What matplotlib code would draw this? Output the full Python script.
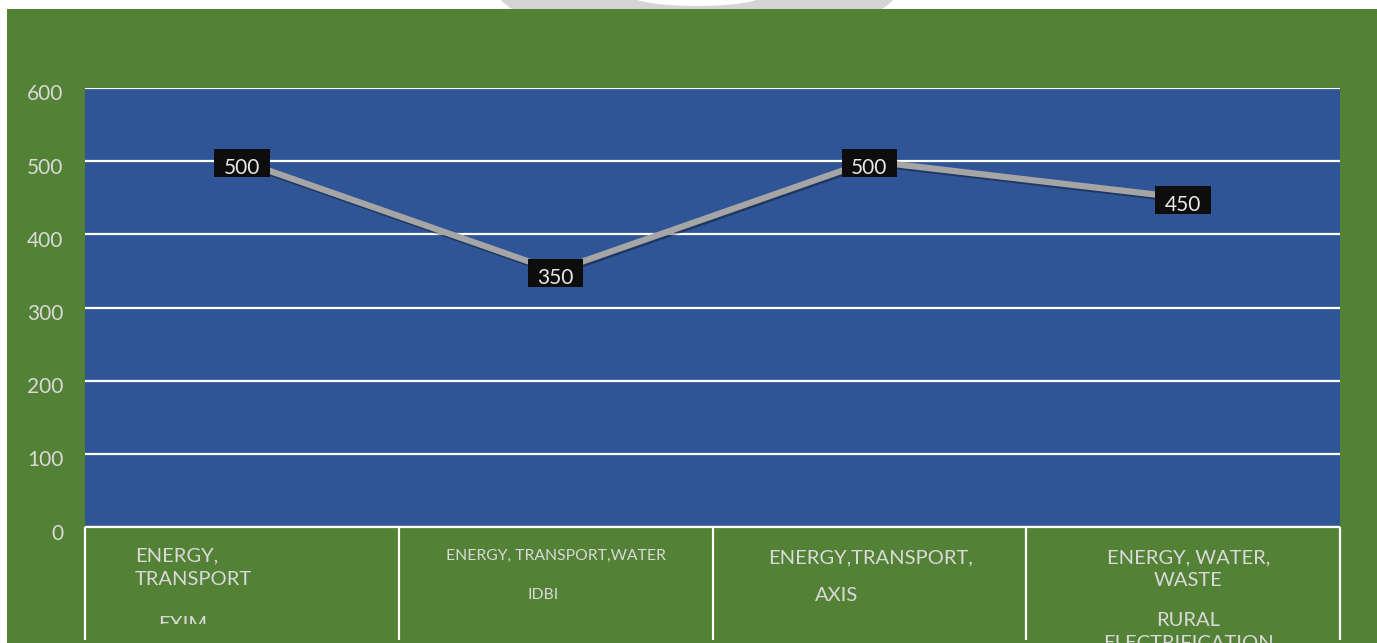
import numpy as np
import matplotlib
matplotlib.use("Agg")
import matplotlib.pyplot as plt
from matplotlib import patheffects, transforms
from matplotlib.patches import Rectangle, Ellipse

plt.rcParams['font.family'] = ['Lato', 'DejaVu Sans']

# data
sectors = ["ENERGY,\nTRANSPORT", "ENERGY, TRANSPORT,WATER", "ENERGY,TRANSPORT,", "ENERGY, WATER,\nWASTE"]
banks = ["EXIM", "IDBI", "AXIS", "RURAL\nELECTRIFICATION"]
values = [500, 350, 500, 450]
yticks = [0, 100, 200, 300, 400, 500, 600]

# label layout inside the category boxes (x offset from category centre, top in axes fraction)
sec_dx = [-0.341, 0.0, 0.005, 0.016]
sec_ha = ["left", "center", "center", "center"]
sec_y = [-0.047, -0.050, -0.050, -0.050]
sec_size = [14.5, 11.3, 14.5, 14.5]
bank_dx = [-0.188, -0.04, -0.106, 0.016]
bank_y = [-0.202, -0.139, -0.136, -0.193]
bank_size = [14.5, 11.3, 14.5, 14.5]

W, H = 1377, 643
green = "#538135"
blue = "#2F5597"
txt = "#D9D9D9"

fig = plt.figure(figsize=(W / 100, H / 100), dpi=100, facecolor="white")

def px(x, y):
    return x / W, 1 - y / H

# watermark remains at the top strip
fig.patches.append(Ellipse(px(697, -10), 400 / W, 100 / H, transform=fig.transFigure,
                           fc="#D4D4D4", ec="none", zorder=-3))
fig.patches.append(Ellipse(px(697, -4), 130 / W, 20 / H, transform=fig.transFigure,
                           fc="white", ec="none", zorder=-2))
# green chart area
fig.patches.append(Rectangle((7 / W, 0), 1, (H - 9) / H, transform=fig.transFigure,
                             fc=green, ec="none", zorder=-1))

ax = fig.add_axes([85 / W, 116 / H, 1255 / W, 439 / H])
ax.set_facecolor(blue)
ax.set_xlim(-0.5, 3.5)
ax.set_ylim(0, 600)
for s in ax.spines.values():
    s.set_visible(False)

ax.set_yticks(yticks)
ax.set_xticks([])
ax.yaxis.grid(True, color="white", lw=1.6)
ax.set_axisbelow(True)
ax.tick_params(axis="y", length=0, pad=15.5, labelsize=15, labelcolor=txt)
shift = transforms.ScaledTranslation(0, -0.045, fig.dpi_scale_trans)
for t in ax.yaxis.get_major_ticks():
    t.label1.set_transform(t.label1.get_transform() + shift)

x = np.arange(len(values))
ax.plot(x, values, color="#A5A5A5", lw=4.5, solid_capstyle="butt", zorder=3,
        path_effects=[patheffects.SimpleLineShadow(offset=(1, -1.5), alpha=0.35),
                      patheffects.Normal()])

# data labels: black box centred on the point, digits sitting low in it
down = transforms.ScaledTranslation(0, -0.05, fig.dpi_scale_trans)
for i, v in enumerate(values):
    ax.text(i, v, " %d " % v, ha="center", va="center_baseline", color="none",
            fontsize=15, zorder=4,
            bbox=dict(boxstyle="square,pad=0.2", fc="#0D0D0D", ec="none"))
    ax.text(i, v, "%d" % v, ha="center", va="center_baseline", color="#E8E8E8",
            fontsize=15, zorder=5, transform=ax.transData + down)

# category boxes below the plot
bt = transforms.blended_transform_factory(ax.transData, ax.transAxes)
bounds = np.arange(len(values) + 1) - 0.5
ax.vlines(bounds, -0.257, 0, transform=bt, color="white", lw=1.6, clip_on=False, zorder=6)
ax.hlines(0, -0.5, 3.5, color="white", lw=1.6, clip_on=False)

for i in range(len(values)):
    ax.text(i + sec_dx[i], sec_y[i], sectors[i], transform=bt, ha=sec_ha[i], va="top",
            fontsize=sec_size[i], color=txt, clip_on=False, linespacing=1.45)
    ax.text(i + bank_dx[i], bank_y[i], banks[i], transform=bt, ha="center",
            va="top", fontsize=bank_size[i], color=txt, linespacing=1.45, clip_on=False)

# the first box cuts its lower label off early
ax.add_patch(Rectangle((-0.45, -0.27), 0.9, (527 - 624) / 439 + 0.27, transform=bt,
                       fc=green, ec="none", clip_on=False, zorder=5))

fig.savefig("out.png", dpi=100, facecolor=fig.get_facecolor())
